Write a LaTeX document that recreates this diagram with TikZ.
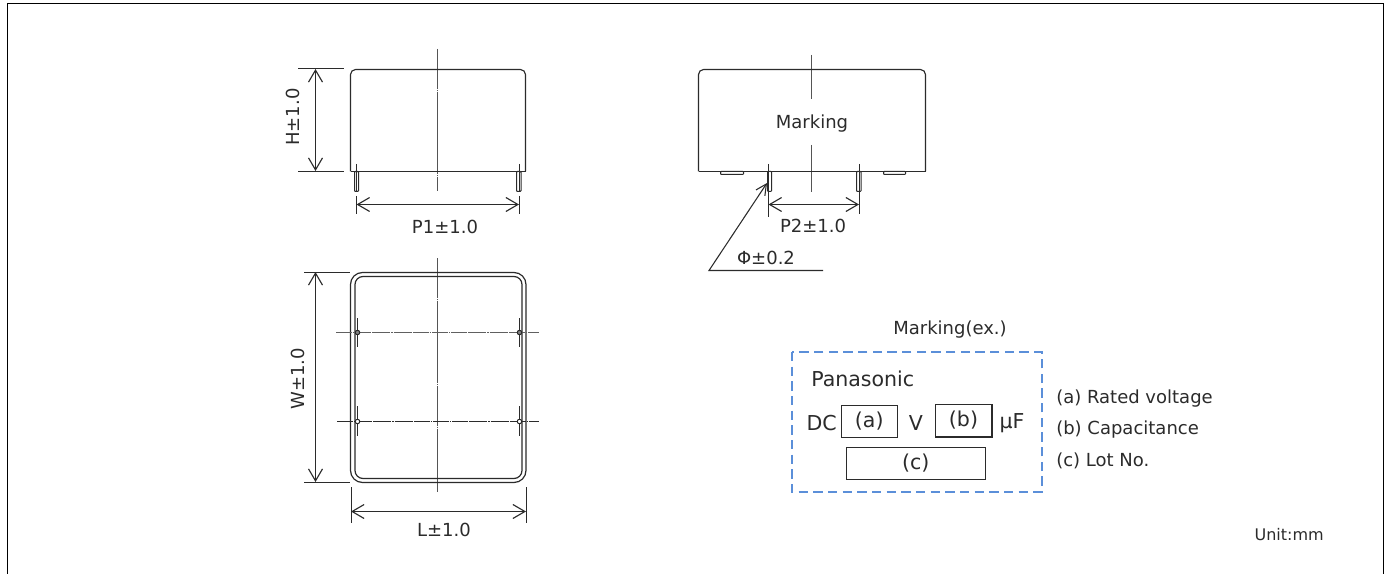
\documentclass[tikz,border=0pt]{standalone}
\usepackage{fontspec}
\setmainfont{DejaVu Sans}
\usetikzlibrary{arrows.meta}
\definecolor{ink}{HTML}{2B2B2B}
\definecolor{mark}{HTML}{5B8FD9}
\tikzset{
  body/.style={draw=ink,line width=0.85pt,rounded corners=3.8pt},
  thinline/.style={draw=ink,line width=0.7pt},
  dimline/.style={draw=ink,line width=0.85pt,{Straight Barb[length=9pt,width=10.5pt,line width=0.85pt]}-{Straight Barb[length=9pt,width=10.5pt,line width=0.85pt]}},
  centerv/.style={draw=ink!80,line width=0.8pt,dash pattern=on 30pt off .5pt on 1pt off .5pt},
  centerh/.style={draw=ink,line width=0.8pt,dash pattern=on 12pt off .6pt on 1.2pt off .6pt},
  pin/.style={draw=ink,line width=0.75pt,fill=white,rounded corners=0.6pt},
  lbl/.style={font=\fontsize{13.5pt}{15pt}\selectfont,text=ink,inner sep=0pt},
  slbl/.style={font=\fontsize{13.5pt}{15pt}\selectfont,text=ink,inner sep=0pt},
  tinylbl/.style={font=\fontsize{12pt}{14pt}\selectfont,text=ink,inner sep=0pt},
  biglbl/.style={font=\fontsize{15.4pt}{17pt}\selectfont,text=ink,inner sep=0pt},
  field/.style={draw=ink,line width=0.9pt,inner sep=0pt,anchor=north west,font=\fontsize{15.4pt}{17pt}\selectfont,text=ink},
  dot/.style={draw=ink,line width=0.75pt,fill=ink!60,circle,inner sep=0pt,minimum size=3.4pt}
}
\begin{document}
\begin{tikzpicture}[x=0.75pt,y=-0.75pt]
\useasboundingbox (0,0) rectangle (1389,574);
\draw[black,line width=0.85pt] (7.5,574) -- (7.5,3.5) -- (1383.5,3.5) -- (1383.5,574);

% ---- side view, upper left
\draw[centerv] (437.5,49) -- (437.5,191);
\draw[body] (350.5,171.5) -- (350.5,69.5) -- (525.5,69.5) -- (525.5,171.5);
\draw[draw=ink,line width=0.85pt] (350.5,171.5) -- (525.5,171.5);
\draw[pin] (354.5,171.5) rectangle (358.5,191.5);
\draw[pin] (516.5,171.5) rectangle (521,191.5);
\coordinate (p1a) at (356.5,204.5); \coordinate (p1b) at (519,204.5);
\draw[thinline] (356.5,164) -- (356.5,191) (356.5,196) -- (356.5,214);
\draw[thinline] (519,164) -- (519,191) (519,196) -- (519,214);
\draw[dimline] (p1a) -- (p1b);
\node[slbl] (p1t) at (445,227) {P1±1.0};
\coordinate (ha) at (315.5,69); \coordinate (hb) at (315.5,171);
\draw[thinline] (298,68.5) -- (344,68.5) (298,171.5) -- (344,171.5);
\draw[dimline] (ha) -- (hb);
\node[slbl,rotate=90] (ht) at (293,117) {H±1.0};

% ---- side view, upper right
\draw[centerv,dash pattern=on 26pt off .5pt on 1pt off .5pt] (811.5,55) -- (811.5,99);
\draw[centerv,dash pattern=on 26pt off .5pt on 1pt off .5pt] (811.5,145) -- (811.5,192);
\draw[body] (698.5,171.5) -- (698.5,69.5) -- (925.5,69.5) -- (925.5,171.5);
\draw[draw=ink,line width=0.85pt] (698.5,171.5) -- (925.5,171.5);
\draw[pin] (720.5,171.5) rectangle (743.5,174.5);
\draw[pin] (883.5,171.5) rectangle (905.5,174.5);
\draw[pin] (767.5,171.5) rectangle (771.5,191.5);
\draw[pin] (856.5,171.5) rectangle (861,191.5);
\node[lbl] (mk) at (812,123.5) {Marking};
\coordinate (p2a) at (768.5,204.5); \coordinate (p2b) at (859,204.5);
\draw[thinline] (768.5,164) -- (768.5,217);
\draw[thinline] (859,164) -- (859,214);
\draw[dimline] (p2a) -- (p2b);
\node[slbl] (p2t) at (813,226) {P2±1.0};
\coordinate (la) at (823,270.5); \coordinate (lb) at (709,270.5); \coordinate (lc) at (767,183);
\draw[draw=ink,line width=0.8pt,-{Straight Barb[length=8pt,width=8pt,line width=0.8pt]}] (la) -- (lb) -- (lc);
\node[slbl] (phi) at (766,258) {Φ±0.2};

% ---- top view
\draw[centerv] (437.5,258) -- (437.5,492);
\draw[draw=ink,line width=0.9pt,rounded corners=9pt] (350.5,272.5) rectangle (526,482.5);
\draw[draw=ink,line width=0.9pt,rounded corners=6pt] (355,276.5) rectangle (522,478.5);
\draw[centerh,ink!75] (336,332.5) -- (539,332.5);
\draw[centerh] (337,421.5) -- (539,421.5);
\draw[thinline] (357.5,318) -- (357.5,347) (519.5,318) -- (519.5,347);
\draw[thinline] (357.5,406) -- (357.5,436) (519.5,406) -- (519.5,436);
\node[dot] (d1) at (357.5,332.5) {};
\node[dot] (d2) at (519.5,332.5) {};
\node[dot,fill=white] (d3) at (357.5,421.5) {};
\node[dot,fill=white] (d4) at (519.5,421.5) {};
\coordinate (wa) at (315.5,272); \coordinate (wb) at (315.5,482);
\draw[thinline] (304,272.5) -- (350,272.5) (304,482.5) -- (350,482.5);
\draw[dimline] (wa) -- (wb);
\node[slbl,rotate=90] (wt) at (297.5,379) {W±1.0};
\coordinate (ba) at (351,511.5); \coordinate (bb) at (526,511.5);
\draw[thinline] (351,487) -- (351,523) (526,487) -- (526,523);
\draw[dimline] (ba) -- (bb);
\node[slbl] (lt) at (444,530) {L±1.0};

% ---- marking example
\node[slbl] (mx) at (950,330) {Marking(ex.)};
\draw[draw=mark,line width=1.6pt,dash pattern=on 7pt off 4pt] (792,352) rectangle (1041.7,492);
\node[biglbl,anchor=west] (pan) at (811,378.5) {Panasonic};
\node[field,minimum width=42.2pt,minimum height=24pt] (fa) at (840.5,404.5) {\raisebox{-1.2pt}{(a)}};
\node[field,minimum width=42.6pt,minimum height=24.6pt] (fb) at (934.5,403.5) {\raisebox{-1.2pt}{(b)}};
\node[field,minimum width=104.4pt,minimum height=24pt] (fc) at (845.5,446.5) {\raisebox{-0.8pt}{(c)}};
\node[biglbl] (dc) at (821.7,423) {DC};
\node[biglbl] (vv) at (916,423) {V};
\node[biglbl] (uf) at (1012,423) {µF};
\node[slbl,anchor=west] (ra) at (1056,399) {(a) Rated voltage};
\node[slbl,anchor=west] (rb) at (1056,429.5) {(b) Capacitance};
\node[slbl,anchor=west] (rc) at (1056,461) {(c) Lot No.};
\node[tinylbl,anchor=east] (un) at (1324,535) {Unit:mm};
\end{tikzpicture}
\end{document}
